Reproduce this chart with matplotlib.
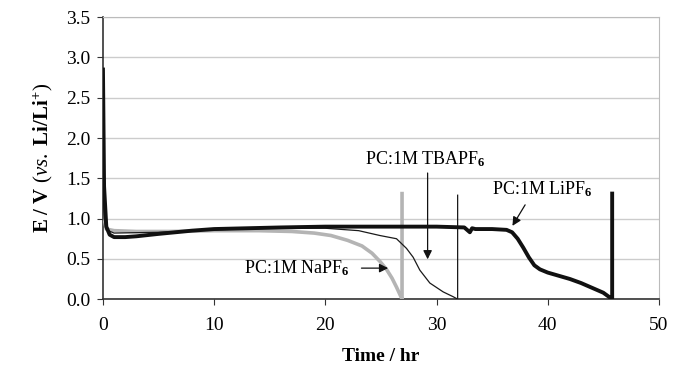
import matplotlib
matplotlib.use("Agg")
import matplotlib.pyplot as plt

# ---------------- data ----------------
t_li = [0, 0.1, 0.3, 0.6, 1.0, 2, 3, 5, 8, 10, 13, 16, 20, 25, 30, 32.5, 33.0, 33.2, 33.5,
        35, 36.3, 36.8, 37.3, 37.8, 38.3, 38.8, 39.3, 40, 41, 42, 43, 44, 45, 45.7, 45.8, 45.8]
v_li = [2.85, 1.4, 0.9, 0.8, 0.77, 0.77, 0.78, 0.81, 0.85, 0.87, 0.88, 0.89, 0.90, 0.90, 0.90,
        0.89, 0.83, 0.88, 0.87, 0.87, 0.86, 0.83, 0.75, 0.64, 0.52, 0.42, 0.37, 0.33, 0.29,
        0.25, 0.20, 0.14, 0.08, 0.01, 0.0, 1.31]

t_na = [0, 0.1, 0.3, 1, 3, 6, 10, 14, 17, 19, 20.5, 22, 23.3, 24.2, 24.9, 25.5, 26.0, 26.4,
        26.8, 26.9, 26.9]
v_na = [1.4, 1.0, 0.87, 0.85, 0.84, 0.84, 0.85, 0.85, 0.84, 0.82, 0.79, 0.73, 0.66, 0.57,
        0.47, 0.37, 0.26, 0.15, 0.03, 0.0, 1.31]

t_tba = [0, 0.1, 0.3, 1, 5, 10, 15, 20, 23, 24.9, 26.4, 27.3, 27.9, 28.5, 29.4, 30.6, 31.5,
         31.9, 31.9]
v_tba = [1.4, 1.0, 0.86, 0.82, 0.83, 0.86, 0.88, 0.88, 0.85, 0.79, 0.75, 0.63, 0.52, 0.36,
         0.20, 0.09, 0.03, 0.0, 1.29]

x_ticks = [0, 10, 20, 30, 40, 50]
y_ticks = [0.0, 0.5, 1.0, 1.5, 2.0, 2.5, 3.0, 3.5]

# ---------------- fonts ----------------
plt.rcParams['font.family'] = 'Liberation Serif'
plt.rcParams['mathtext.fontset'] = 'custom'
plt.rcParams['mathtext.rm'] = 'Liberation Serif'
plt.rcParams['mathtext.it'] = 'Liberation Serif:italic'
plt.rcParams['mathtext.bf'] = 'Liberation Serif:bold'

fig = plt.figure(figsize=(6.73, 3.73), dpi=100)
ax = fig.add_axes([0.153, 0.198, 0.826, 0.756])

ax.plot(t_na, v_na, color='#b4b4b4', lw=2.6, zorder=3)
ax.plot(t_tba, v_tba, color='#1a1a1a', lw=0.9, zorder=4)
ax.plot(t_li, v_li, color='#111111', lw=2.8, zorder=5)

ax.set_xlim(0, 50)
ax.set_ylim(0, 3.5)
ax.set_xticks(x_ticks)
ax.set_yticks(y_ticks)
ax.set_yticklabels(['%.1f' % y for y in y_ticks])
ax.tick_params(direction='out', labelsize=14, length=4, color='#333333')
ax.tick_params(axis='x', pad=9)
ax.tick_params(axis='y', pad=5)
ax.grid(axis='y', color='#cccccc', lw=1)
ax.set_axisbelow(True)

for s in ['top', 'right']:
    ax.spines[s].set_color('#bbbbbb')
for s in ['left', 'bottom']:
    ax.spines[s].set_color('#333333')
    ax.spines[s].set_linewidth(1.2)

ax.set_xlabel('Time / hr', fontsize=14, fontweight='bold', labelpad=10)
ax.set_ylabel(r'$\mathbf{E\ /\ V}$ ($\it{vs.}$ $\mathbf{Li/Li^{+}}$)', fontsize=15, labelpad=8)

# annotations
ax.text(29.0, 1.74, r'PC:1M TBAPF$_\mathbf{6}$', ha='center', va='center', fontsize=13)
ax.annotate('', xy=(29.2, 0.46), xytext=(29.2, 1.6),
            arrowprops=dict(arrowstyle='-|>', color='#111111', lw=0.9, mutation_scale=13))

ax.text(39.5, 1.36, r'PC:1M LiPF$_\mathbf{6}$', ha='center', va='center', fontsize=13)
ax.annotate('', xy=(36.7, 0.88), xytext=(38.1, 1.2),
            arrowprops=dict(arrowstyle='-|>', color='#111111', lw=0.9, mutation_scale=13))

ax.text(17.4, 0.385, r'PC:1M NaPF$_\mathbf{6}$', ha='center', va='center', fontsize=13)
ax.annotate('', xy=(25.9, 0.385), xytext=(23.0, 0.385),
            arrowprops=dict(arrowstyle='-|>', color='#111111', lw=0.9, mutation_scale=13))

fig.savefig('out.png', dpi=100)
